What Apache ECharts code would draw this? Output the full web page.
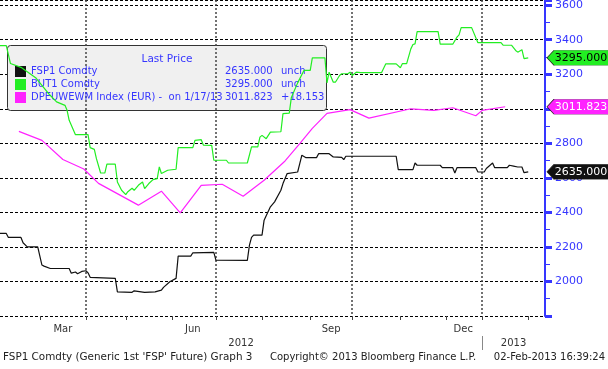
<!DOCTYPE html>
<html><head><meta charset="utf-8">
<script src="https://cdn.jsdelivr.net/npm/echarts@6/dist/echarts.min.js"></script>
<style>html,body{margin:0;padding:0;background:#fff}#c{width:608px;height:369px}</style>
</head><body><div id="c"></div>
<script>
// ---- axis domain (trading days) ----
const startDate = '2012-02-03', endDate = '2013-02-13';
const holidays = ['2012-04-06','2012-04-09','2012-05-01','2012-12-24','2012-12-25','2012-12-26','2012-12-31','2013-01-01'];
const monthNames = ['Jan','Feb','Mar','Apr','May','Jun','Jul','Aug','Sep','Oct','Nov','Dec'];
const labelMonths = [3, 6, 9, 12];
const gridMonths = [1, 4, 7, 10];
const yMin = 1800, yMax = 3630, yStep = 200, yLabelMax = 3600;

// ---- series data ----
const fspName = 'FSP1 Comdty';
const fspDates = ['2012-02-03','2012-02-08','2012-02-09','2012-02-17','2012-02-20','2012-02-22','2012-02-29','2012-03-02','2012-03-05','2012-03-08','2012-03-21','2012-03-22','2012-03-26','2012-03-27','2012-03-29','2012-04-02','2012-04-03','2012-04-04','2012-04-24','2012-04-25','2012-05-07','2012-05-08','2012-05-15','2012-05-22','2012-05-25','2012-05-28','2012-05-31','2012-06-05','2012-06-06','2012-06-14','2012-06-15','2012-06-29','2012-07-02','2012-07-23','2012-07-24','2012-07-25','2012-07-26','2012-08-01','2012-08-02','2012-08-07','2012-08-09','2012-08-14','2012-08-15','2012-08-17','2012-08-24','2012-08-27','2012-08-28','2012-08-30','2012-09-06','2012-09-07','2012-09-14','2012-09-18','2012-09-24','2012-09-25','2012-09-26','2012-10-30','2012-10-31','2012-11-09','2012-11-12','2012-11-13','2012-11-28','2012-11-29','2012-12-06','2012-12-07','2012-12-10','2012-12-21','2012-12-27','2013-01-03','2013-01-04','2013-01-09','2013-01-10','2013-01-18','2013-01-21','2013-01-23','2013-01-25','2013-01-29','2013-01-30','2013-02-01'];
const fspValues = [2278,2278,2255,2255,2224,2200,2200,2095,2089,2075,2075,2048,2055,2045,2058,2062,2050,2024,2018,1940,1937,1946,1937,1940,1950,1966,1998,2018,2147,2147,2166,2168,2124,2122,2210,2255,2268,2268,2355,2432,2461,2528,2567,2625,2634,2683,2731,2717,2717,2740,2740,2721,2719,2706,2725,2725,2648,2648,2686,2673,2673,2659,2659,2628,2659,2659,2634,2634,2654,2686,2659,2659,2673,2668,2663,2663,2630,2635];

const butName = 'BUT1 Comdty';
const butDates = ['2012-02-03','2012-02-08','2012-02-10','2012-02-17','2012-02-28','2012-03-07','2012-03-13','2012-03-19','2012-03-20','2012-03-21','2012-03-26','2012-04-03','2012-04-04','2012-04-10','2012-04-11','2012-04-13','2012-04-17','2012-04-18','2012-04-24','2012-04-25','2012-04-27','2012-05-02','2012-05-03','2012-05-07','2012-05-08','2012-05-10','2012-05-14','2012-05-15','2012-05-17','2012-05-21','2012-05-23','2012-05-24','2012-05-25','2012-05-30','2012-06-05','2012-06-06','2012-06-15','2012-06-18','2012-06-21','2012-06-22','2012-06-28','2012-06-29','2012-07-09','2012-07-10','2012-07-23','2012-07-25','2012-07-30','2012-07-31','2012-08-01','2012-08-03','2012-08-07','2012-08-14','2012-08-15','2012-08-20','2012-08-21','2012-08-24','2012-08-29','2012-09-03','2012-09-04','2012-09-12','2012-09-13','2012-09-14','2012-09-18','2012-09-19','2012-09-21','2012-09-24','2012-09-27','2012-09-28','2012-10-01','2012-10-03','2012-10-05','2012-10-19','2012-10-23','2012-10-30','2012-11-01','2012-11-02','2012-11-06','2012-11-08','2012-11-09','2012-11-12','2012-11-13','2012-11-27','2012-11-28','2012-12-06','2012-12-10','2012-12-11','2012-12-12','2012-12-19','2012-12-27','2013-01-15','2013-01-16','2013-01-22','2013-01-24','2013-01-25','2013-01-29','2013-01-30','2013-02-01'];
const butValues = [3366,3366,3262,3240,3180,3090,3040,3020,2991,2933,2850,2850,2775,2765,2711,2628,2628,2679,2679,2576,2528,2503,2520,2540,2528,2557,2576,2538,2567,2590,2596,2663,2625,2644,2650,2775,2775,2817,2821,2790,2788,2702,2702,2686,2686,2779,2779,2836,2846,2827,2865,2867,2972,2975,3066,3150,3222,3222,3295,3295,3150,3212,3154,3154,3193,3203,3203,3212,3193,3212,3209,3209,3260,3260,3238,3262,3262,3347,3372,3376,3447,3447,3374,3374,3415,3428,3470,3470,3383,3383,3368,3368,3338,3328,3342,3290,3295];

const dpeName = 'DPEUWEWM Index (EUR) -  on 1/17/13';
const dpeDates = ['2012-02-16','2012-03-02','2012-03-16','2012-03-30','2012-04-12','2012-05-10','2012-05-25','2012-06-07','2012-06-21','2012-07-05','2012-07-19','2012-08-02','2012-08-16','2012-08-27','2012-09-04','2012-09-13','2012-09-28','2012-10-11','2012-11-08','2012-11-23','2012-12-06','2012-12-21','2013-01-02','2013-01-17'];
const dpeValues = [2869,2817,2706,2651,2568,2442,2523,2397,2557,2563,2494,2586,2698,2798,2887,2973,2995,2946,3000,2991,3006,2960,2991,3011.823];

const legendNames = [fspName, butName, dpeName];
const lastPrices = ['2635.000', '3295.000', '3011.823'];
const changes = ['unch', 'unch', '+18.153'];
const footerTexts = ["FSP1 Comdty (Generic 1st 'FSP' Future) Graph 3", 'Copyright\u00a9 2013 Bloomberg Finance L.P.', '02-Feb-2013 16:39:24'];

// ---- build trading-day categories ----
function ymd(d){ return d.toISOString().slice(0,10); }
const categories = [];
for (let d = new Date(startDate + 'T00:00:00Z'); ymd(d) <= endDate; d.setUTCDate(d.getUTCDate() + 1)) {
  const wd = d.getUTCDay(), s = ymd(d);
  if (wd === 0 || wd === 6 || holidays.includes(s)) continue;
  categories.push(s);
}
const N = categories.length;
const mon = i => +categories[i].slice(5,7);
const isMonthStart = i => i > 0 && categories[i].slice(0,7) !== categories[i-1].slice(0,7);
const monthStarts = [];
for (let i = 1; i < N; i++) if (isMonthStart(i)) monthStarts.push(i);
const labelIdx = new Set();
monthStarts.forEach((s, k) => {
  const e = k + 1 < monthStarts.length ? monthStarts[k+1] : N - 1;
  if (labelMonths.includes(mon(s))) labelIdx.add(Math.floor((s + e) / 2));
});
let yearBoundary = 0;
for (let i = 1; i < N; i++) if (categories[i].slice(0,4) !== categories[i-1].slice(0,4)) yearBoundary = i;
const yearLabelIdx = new Set([Math.floor(yearBoundary / 2), Math.floor((yearBoundary + N - 1) / 2)]);

const FONT = 'DejaVu Sans';
const BLUE = '#3636ff';
function pairs(ds, vs){ return ds.map((d, i) => [d, vs[i]]); }
function flag(value, bg, fg){
  return {
    silent: true, animation: false,
    symbol: 'path://M0,7L7,0L62,0L62,14L7,14Z', symbolSize: [62, 15], symbolOffset: [33, 0], symbolKeepAspect: false,
    itemStyle: { color: bg, borderColor: '#222', borderWidth: 0.5 },
    label: { show: true, position: 'inside', offset: [3, 0], formatter: () => value.toFixed(3), color: fg, fontSize: 11, fontFamily: FONT },
    data: [{ coord: [categories[N-1], value], value: value }]
  };
}
function line(name, ds, vs, color, flagFg){
  return {
    name, type: 'line', xAxisIndex: 0, data: pairs(ds, vs), showSymbol: false, symbol: 'none', z: 3,
    itemStyle: { color }, lineStyle: { color, width: 1.2 }, animation: false,
    markPoint: flag(vs[vs.length-1], color, flagFg)
  };
}

const chart = echarts.init(document.getElementById('c'), null, { renderer: 'canvas' });
chart.setOption({
  backgroundColor: '#ffffff',
  animation: false,
  grid: { left: 0, right: 63, top: 0, bottom: 53, containLabel: false, outerBoundsMode: 'none' },
  legend: {
    show: true, orient: 'vertical', left: 7, top: 45, z: 2, icon: 'rect',
    itemWidth: 11, itemHeight: 11, itemGap: 2, padding: [21, 5, 6, 8],
    selectedMode: false, data: legendNames,
    formatter: name => { const k = legendNames.indexOf(name); return '{n|' + name + '}{v|' + lastPrices[k] + '}{c|' + changes[k] + '}'; },
    textStyle: {
      color: BLUE, fontSize: 10, fontFamily: FONT,
      rich: {
        n: { width: 194, color: BLUE, fontSize: 10, fontFamily: FONT },
        v: { width: 56, color: BLUE, fontSize: 10, fontFamily: FONT },
        c: { width: 40, color: BLUE, fontSize: 10, fontFamily: FONT }
      }
    }
  },
  graphic: [
    { type: 'rect', z: 1, shape: { x: 7.5, y: 45.5, width: 319, height: 65, r: 3 }, style: { fill: '#f0f0f0', stroke: '#333', lineWidth: 1 } },
    { type: 'text', x: 167, y: 59, z: 2, style: { text: 'Last Price', fill: BLUE, font: '10.5px "DejaVu Sans"', align: 'center', verticalAlign: 'middle', textAlign: 'center', textVerticalAlign: 'middle' } },
    { type: 'text', x: 3, y: 357, style: { text: footerTexts[0], fill: '#222', font: '10.4px "DejaVu Sans"', verticalAlign: 'middle', textVerticalAlign: 'middle' } },
    { type: 'text', x: 270, y: 357, style: { text: footerTexts[1], fill: '#222', font: '10px "DejaVu Sans"', verticalAlign: 'middle', textVerticalAlign: 'middle' } },
    { type: 'text', x: 605, y: 357, style: { text: footerTexts[2], fill: '#222', font: '10px "DejaVu Sans"', align: 'right', textAlign: 'right', verticalAlign: 'middle', textVerticalAlign: 'middle' } }
  ],
  xAxis: [
    {
      type: 'category', data: categories, boundaryGap: false, z: 2,
      axisLine: { show: false },
      axisTick: { show: true, interval: (i) => isMonthStart(i), length: 4, lineStyle: { color: '#444', width: 1 } },
      axisLabel: { show: true, interval: (i) => labelIdx.has(i), formatter: v => monthNames[+v.slice(5,7) - 1], color: '#333', fontSize: 10, fontFamily: FONT, margin: 8 },
      splitLine: { show: true, interval: (i) => isMonthStart(i) && gridMonths.includes(mon(i)), lineStyle: { color: '#444', type: [2, 2], width: 1.5 } }
    },
    {
      type: 'category', data: categories, boundaryGap: false, position: 'bottom', offset: 20,
      axisLine: { show: false },
      axisTick: { show: true, interval: (i) => i === yearBoundary, length: 14, lineStyle: { color: '#888', width: 1 } },
      axisLabel: { show: true, interval: (i) => yearLabelIdx.has(i), formatter: v => v.slice(0,4), color: '#333', fontSize: 10, fontFamily: FONT, margin: 2 },
      splitLine: { show: false }
    }
  ],
  yAxis: {
    type: 'value', position: 'right', min: yMin, max: yMax, interval: yStep, z: 0,
    axisLine: { show: true, lineStyle: { color: BLUE, width: 2 } },
    axisTick: { show: true, length: 7, lineStyle: { color: BLUE, width: 3 } },
    minorTick: { show: true, splitNumber: 2, length: 5, lineStyle: { color: BLUE, width: 1 } },
    axisLabel: { margin: 10, color: BLUE, fontSize: 11, fontFamily: FONT, formatter: v => (v % yStep === 0 && v > yMin && v <= yLabelMax) ? String(v) : '' },
    splitLine: { show: true, lineStyle: { color: '#000', type: [3, 2], width: 1 } }
  },
  series: [
    line(butName, butDates, butValues, '#22ee22', '#000'),
    line(dpeName, dpeDates, dpeValues, '#ff22ff', '#fff'),
    line(fspName, fspDates, fspValues, '#111111', '#fff')
  ]
});
</script>
</body></html>
